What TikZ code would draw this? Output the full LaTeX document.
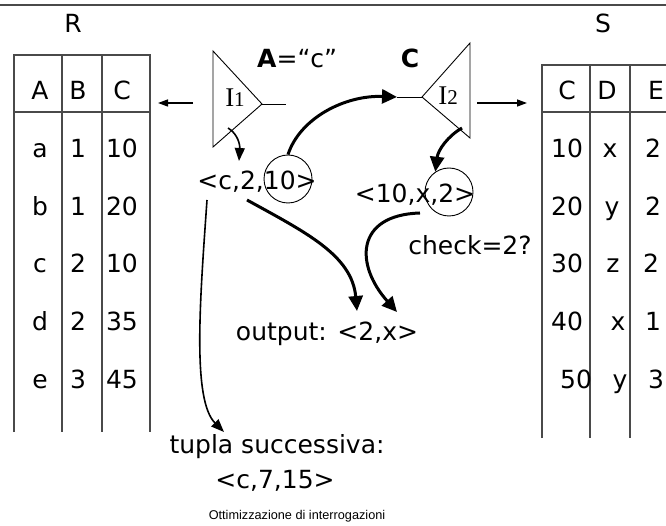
\documentclass[tikz,border=0pt]{standalone}
\usepackage{fontspec}
\setmainfont{DejaVu Sans}
\newfontfamily\idxfont{Liberation Serif}
\newfontfamily\footfont{Liberation Sans}
\usepackage{tikz}
\usetikzlibrary{arrows.meta}
\definecolor{ink}{HTML}{000000}
\definecolor{rule}{HTML}{4A4A4A}
\tikzset{
  topline/.style={draw=rule, line width=1.5pt},
  grid/.style={draw=rule, line width=1.3pt},
  tri/.style={draw=ink, line width=0.9pt},
  ptr/.style={draw=ink, line width=1.3pt, -{Triangle[length=10pt,width=7pt]}},
  thinarr/.style={draw=ink, line width=1.6pt, -{Triangle[length=13pt,width=10pt]}},
  fatarr/.style={draw=ink, line width=3pt, -{Triangle[length=15pt,width=14pt]}},
  ring/.style={circle, draw=ink, line width=0.9pt, minimum size=48pt, inner sep=0pt},
  cell/.style={anchor=base, inner sep=0pt},
  txt/.style={anchor=base, inner sep=0pt},
  idx/.style={anchor=base, inner sep=0pt, font=\idxfont\fontsize{27}{30}\selectfont},
  every node/.style={text=ink, font=\fontsize{25}{30}\selectfont}
}

\begin{document}
\begin{tikzpicture}[x=1pt,y=-1pt]
  \useasboundingbox (0,0) rectangle (666,526);
  \draw[topline] (0,5) -- (666,5);

  % relation R
  \node[txt] (nameR) at (73,33) {R};
  \draw[grid] (14,432) -- (14,55) -- (150,55) -- (150,432);
  \draw[grid] (62,55) -- (62,432);
  \draw[grid] (102,55) -- (102,432);
  \draw[grid] (14,112) -- (150,112);
  \foreach \a/\b/\c [count=\i from 0] in {A/B/C,a/1/10,b/1/20,c/2/10,d/2/35,e/3/45}{
    \node[cell] (rA\i) at (40,{100+57.6*\i}) {\a};
    \node[cell] (rB\i) at (78,{100+57.6*\i}) {\b};
    \node[cell] (rC\i) at (122,{100+57.6*\i}) {\c};
  }

  % relation S
  \node[txt] (nameS) at (603,33) {S};
  \draw[grid] (542,438) -- (542,65) -- (666,65);
  \draw[grid] (590,65) -- (590,438);
  \draw[grid] (630,65) -- (630,438);
  \draw[grid] (542,112) -- (666,112);
  \foreach \c/\cx/\d/\dx/\e/\ex [count=\i from 0] in
      {C/567/D/607/E/656,10/567/x/610/2/653,20/567/y/612/2/653,
       30/567/z/613/2/651,40/567/x/618/1/653,50/576/y/620/3/656}{
    \node[cell] (sC\i) at (\cx,{100+57.6*\i}) {\c};
    \node[cell] (sD\i) at (\dx,{100+57.6*\i}) {\d};
    \node[cell] (sE\i) at (\ex,{100+57.6*\i}) {\e};
  }

  % index I1 on A
  \draw[tri] (213,51) -- (262,104) -- (213,147) -- cycle;
  \coordinate (i1tip) at (262,104);
  \coordinate (i1out) at (286,104);
  \draw[tri] (i1tip) -- (i1out);
  \node[idx] (lI1) at (235,107) {I{\fontsize{21}{24}\selectfont 1}};
  \coordinate (i1left) at (193,103);
  \coordinate (rside) at (158,103);
  \draw[ptr] (i1left) -- (rside);
  \node[txt, anchor=base west] (selA) at (257,68) {\textbf{A}=“c”};

  % index I2 on C
  \draw[tri] (470,43) -- (422,97) -- (470,138) -- cycle;
  \coordinate (i2tip) at (422,97);
  \coordinate (i2in) at (397,97);
  \draw[tri] (i2in) -- (i2tip);
  \node[idx] (lI2) at (448,105) {I{\fontsize{21}{24}\selectfont 2}};
  \coordinate (i2right) at (477,103);
  \coordinate (sside) at (527,103);
  \draw[ptr] (i2right) -- (sside);
  \node[txt] (selC) at (410,68) {\textbf{C}};

  % tuples
  \node[txt] (tup1) at (257,190) {<c,2,10>};
  \node[ring] (ring10) at (288,179) {};
  \node[txt] (tup2) at (415,203) {<10,x,2>};
  \node[ring] (ring2) at (449,192) {};
  \node[txt] (check) at (470,255) {check=2?};
  \node[txt] (out) at (327,340) {output: <2,x>};
  \node[txt] (next) at (277,453) {tupla successiva:};
  \node[txt] (nextv) at (275,488) {<c,7,15>};
  \node[txt, font=\footfont\fontsize{12.7}{14}\selectfont] (foot) at (297,519)
    {Ottimizzazione di interrogazioni};

  % flow
  \coordinate (i1in) at (228,128);
  \coordinate (t1top) at (239,161);
  \draw[thinarr] (i1in) .. controls (238,134) and (240,145) .. (t1top);
  \draw[fatarr] (ring10.north) .. controls (300,118) and (345,95) .. (i2in);
  \coordinate (i2low) at (462,128);
  \draw[fatarr] (i2low) .. controls (448,136) and (438,150) .. (ring2.124);
  \coordinate (t1low) at (247,200);
  \coordinate (outl) at (357,311);
  \draw[fatarr] (t1low) .. controls (305,232) and (352,255) .. (outl);
  \coordinate (t2low) at (420,213);
  \coordinate (outr) at (397,312);
  \draw[fatarr] (t2low) .. controls (355,215) and (355,265) .. (outr);
  \coordinate (t1left) at (207,200);
  \coordinate (nexttop) at (224,432);
  \draw[thinarr] (t1left) .. controls (200,300) and (192,400) .. (nexttop);
\end{tikzpicture}
\end{document}
